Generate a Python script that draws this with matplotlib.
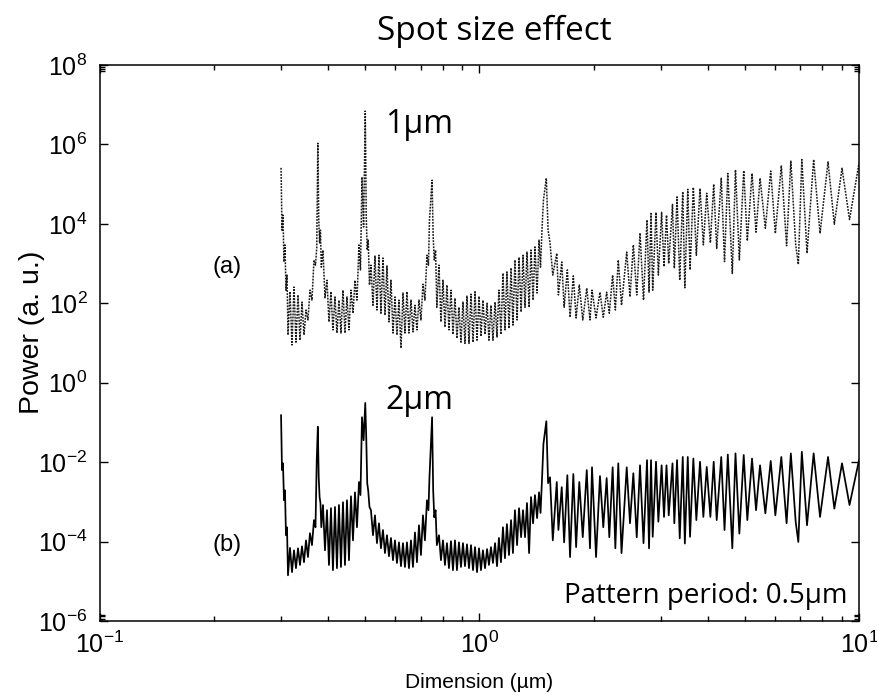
import numpy as np
import matplotlib.pyplot as plt
from matplotlib.ticker import FixedLocator, NullFormatter

#===========================
# DATA
#===========================
# dimension in um, shared by both spectra
dimension_um = [
    0.300, 0.3017, 0.3035, 0.3054, 0.3072, 0.3091, 0.3110, 0.3129, 0.3167, 0.3206,
    0.3245, 0.3284, 0.3325, 0.3365, 0.3406, 0.3448, 0.3490, 0.3532, 0.3575, 0.3619,
    0.3663, 0.3697, 0.3725, 0.375, 0.377, 0.379, 0.381, 0.383, 0.3869, 0.3916,
    0.3964, 0.4012, 0.4061, 0.4110, 0.4161, 0.4211, 0.4263, 0.4315, 0.4368, 0.4421,
    0.4475, 0.4530, 0.4585, 0.4641, 0.4698, 0.4755, 0.4813, 0.4857, 0.4902, 0.4950,
    0.500, 0.503, 0.506, 0.509, 0.513, 0.5176, 0.5240, 0.5304, 0.5368, 0.5434,
    0.5500, 0.5567, 0.5635, 0.5704, 0.5774, 0.5844, 0.5916, 0.5988, 0.6061, 0.6135,
    0.6210, 0.6286, 0.6362, 0.6440, 0.6518, 0.6598, 0.6678, 0.6760, 0.6842, 0.6926,
    0.7010, 0.7096, 0.7182, 0.7270, 0.7337, 0.7382, 0.750, 0.755, 0.760, 0.766,
    0.772, 0.7820, 0.7915, 0.8012, 0.8109, 0.8208, 0.8309, 0.8411, 0.8513, 0.8617,
    0.8722, 0.8828, 0.8936, 0.9046, 0.9156, 0.9268, 0.9382, 0.9498, 0.9614, 0.9732,
    0.9850, 0.9970, 1.009, 1.021, 1.034, 1.047, 1.059, 1.072, 1.085, 1.099,
    1.112, 1.125, 1.139, 1.153, 1.167, 1.181, 1.196, 1.211, 1.225, 1.240,
    1.256, 1.271, 1.287, 1.302, 1.318, 1.334, 1.351, 1.367, 1.384, 1.400,
    1.418, 1.435, 1.448, 1.462, 1.474, 1.500, 1.516, 1.534, 1.560, 1.598,
    1.614, 1.647, 1.671, 1.704, 1.732, 1.767, 1.797, 1.832, 1.871, 1.917,
    1.955, 1.979, 2.028, 2.077, 2.119, 2.163, 2.198, 2.243, 2.280, 2.321,
    2.367, 2.443, 2.492, 2.543, 2.596, 2.648, 2.705, 2.763, 2.797, 2.831,
    2.860, 2.918, 2.960, 3.019, 3.063, 3.110, 3.152, 3.225, 3.261, 3.315,
    3.370, 3.432, 3.476, 3.538, 3.587, 3.660, 3.727, 3.811, 3.889, 3.969,
    4.058, 4.141, 4.217, 4.335, 4.422, 4.511, 4.636, 4.726, 4.838, 4.968,
    5.078, 5.225, 5.354, 5.485, 5.665, 5.852, 6.019, 6.241, 6.444, 6.612,
    6.81, 6.920, 7.068, 7.294, 7.593, 7.893, 8.286, 8.609, 9.020, 9.440,
    10.0,
]

# log10 of power, (a) 1um spot
log_power_a = [
    5.41, 3.84, 4.22, 3.04, 3.47, 2.33, 2.71, 1.20, 2.29, 0.95,
    2.41, 1.02, 2.21, 1.07, 2.03, 1.20, 1.83, 1.58, 2.33, 2.08,
    3.09, 2.96, 3.40, 6.03, 4.16, 3.52, 3.84, 2.91, 3.34, 2.14,
    2.58, 1.53, 2.29, 1.33, 2.16, 1.25, 2.08, 1.25, 2.33, 1.25,
    2.16, 1.33, 2.33, 1.75, 2.58, 2.08, 3.47, 2.84, 5.18, 3.92,
    6.84, 4.17, 3.34, 3.59, 2.46, 2.96, 1.95, 3.19, 1.83, 3.21,
    1.75, 3.14, 1.70, 2.94, 1.53, 2.58, 1.25, 2.16, 1.20, 2.08,
    0.87, 2.26, 1.25, 2.29, 1.25, 2.08, 1.28, 1.95, 1.33, 2.08,
    1.58, 2.48, 2.08, 3.21, 2.96, 4.10, 5.10, 3.67, 3.09, 3.34,
    1.90, 2.96, 1.53, 2.58, 1.40, 2.46, 1.33, 2.33, 1.22, 2.13,
    1.12, 1.90, 1.02, 2.03, 0.99, 2.18, 0.99, 2.23, 1.02, 2.29,
    1.07, 2.18, 1.17, 2.08, 1.22, 2.00, 1.07, 1.95, 1.07, 2.03,
    1.15, 2.33, 1.22, 2.76, 1.33, 2.79, 1.37, 2.89, 1.45, 3.09,
    1.58, 3.16, 1.78, 3.21, 1.90, 3.29, 1.90, 3.34, 2.08, 3.42,
    2.26, 3.59, 2.91, 3.92, 4.60, 5.15, 3.84, 3.52, 2.71, 3.26,
    2.21, 3.04, 1.90, 2.84, 1.65, 2.69, 1.63, 2.46, 1.58, 2.38,
    1.58, 2.33, 1.63, 2.28, 1.65, 2.28, 1.75, 2.71, 1.83, 3.09,
    1.95, 3.29, 2.16, 3.47, 2.21, 3.77, 2.08, 4.10, 2.28, 4.26,
    2.33, 4.29, 2.71, 4.29, 2.92, 4.22, 3.00, 4.49, 2.88, 4.68,
    2.58, 4.81, 2.39, 4.87, 2.84, 4.92, 3.21, 4.89, 3.47, 4.77,
    3.52, 5.00, 3.38, 5.15, 3.05, 5.27, 2.75, 5.36, 3.09, 5.34,
    3.57, 5.27, 3.79, 5.15, 3.89, 5.33, 3.76, 5.47, 3.45, 5.58,
    3.47, 2.98, 5.62, 3.26, 5.62, 3.76, 5.56, 3.99, 5.40, 4.11,
    5.53,
]

# log10 of power, (b) 2um spot
log_power_b = [
    -0.82, -2.20, -2.03, -2.96, -2.71, -3.84, -3.64, -4.85, -4.16, -4.77,
    -4.22, -4.67, -4.17, -4.59, -4.12, -4.52, -3.97, -4.39, -3.79, -4.09,
    -3.46, -3.64, -1.95, -1.11, -2.38, -2.88, -3.03, -3.64, -3.08, -4.22,
    -3.21, -4.59, -3.16, -4.72, -3.13, -4.67, -3.08, -4.64, -3.01, -4.59,
    -2.96, -4.47, -2.86, -3.97, -2.76, -3.64, -2.50, -2.83, -0.87, -1.45,
    -0.51, -1.37, -2.53, -2.71, -3.13, -3.21, -3.84, -3.34, -4.04, -3.54,
    -4.17, -3.71, -4.29, -3.84, -4.37, -3.91, -4.47, -3.97, -4.54, -4.02,
    -4.62, -4.04, -4.64, -4.02, -4.67, -3.97, -4.64, -3.77, -4.52, -3.59,
    -4.34, -3.34, -3.97, -2.96, -3.21, -2.38, -0.87, -2.71, -3.39, -3.21,
    -4.09, -3.84, -4.47, -3.97, -4.59, -4.04, -4.67, -3.99, -4.72, -3.97,
    -4.72, -4.02, -4.64, -4.04, -4.62, -4.07, -4.67, -4.09, -4.72, -4.14,
    -4.77, -4.17, -4.72, -4.22, -4.67, -4.19, -4.59, -4.14, -4.54, -4.04,
    -4.62, -3.91, -4.52, -3.64, -4.42, -3.56, -4.34, -3.46, -4.29, -3.21,
    -4.09, -3.16, -3.89, -3.21, -3.89, -3.03, -4.29, -2.88, -3.54, -2.83,
    -3.41, -2.76, -3.28, -2.38, -1.54, -0.97, -2.53, -2.38, -3.97, -2.50,
    -3.71, -2.63, -4.02, -2.33, -4.39, -2.30, -4.14, -2.50, -3.89, -2.20,
    -4.17, -2.13, -4.39, -2.35, -3.64, -2.40, -3.89, -2.13, -4.17, -2.03,
    -4.29, -2.13, -3.54, -2.28, -3.89, -2.08, -4.04, -1.95, -4.17, -1.95,
    -3.88, -1.99, -3.50, -2.08, -3.38, -2.08, -3.34, -2.03, -3.54, -1.95,
    -3.92, -1.87, -4.05, -1.87, -3.88, -1.91, -3.46, -1.99, -3.38, -2.12,
    -3.38, -1.99, -3.46, -1.87, -3.71, -1.81, -4.17, -1.78, -3.80, -1.82,
    -3.46, -1.91, -3.21, -2.08, -3.29, -1.97, -3.34, -1.87, -3.54, -1.78,
    -3.51, -4.01, -1.74, -3.59, -1.78, -3.38, -1.87, -3.17, -2.03, -3.08,
    -1.95,
]

y_major = [1e-6, 1e-4, 1e-2, 1e0, 1e2, 1e4, 1e6, 1e8]
y_labels = [r'$\mathdefault{10^{%d}}$' % e for e in (-6, -4, -2, 0, 2, 4, 6, 8)]
x_major = [0.1, 1.0, 10.0]
x_labels = [r'$\mathdefault{10^{-1}}$', r'$\mathdefault{10^{0}}$', r'$\mathdefault{10^{1}}$']

#===========================
# FIGURE
#===========================
plt.rcParams['font.family'] = ['Liberation Sans', 'DejaVu Sans']
CAL = ['Open Sans', 'DejaVu Sans']

fig = plt.figure(figsize=(8.77, 6.96), dpi=100)
ax = fig.add_axes([0.114, 0.1078, 0.8655, 0.7988])

x = np.array(dimension_um)
ax.plot(x, 10.0 ** np.array(log_power_a), color='#1a1a1a', lw=1.1, ls=(0, (1.2, 0.8)))
ax.plot(x, 10.0 ** np.array(log_power_b), color='black', lw=1.25)

ax.set_xscale('log')
ax.set_yscale('log')
ax.set_xlim(0.1, 10)
ax.set_ylim(1e-6, 1e8)

#****** ticks ******
ax.xaxis.set_major_locator(FixedLocator(x_major))
ax.set_xticklabels(x_labels)
ax.xaxis.set_minor_locator(FixedLocator([k * 0.1 for k in range(2, 10)] + list(range(2, 10))))
ax.xaxis.set_minor_formatter(NullFormatter())
ax.yaxis.set_major_locator(FixedLocator(y_major))
ax.set_yticklabels(y_labels)
ax.yaxis.set_minor_locator(FixedLocator([7e7, 8e7, 9e7, 1.15e-6, 1.3e-6, 1.45e-6]))
ax.yaxis.set_minor_formatter(NullFormatter())
ax.tick_params(which='both', direction='in', top=True, right=True, width=1.0)
ax.tick_params(which='major', length=6, labelsize=18)
ax.tick_params(axis='x', which='major', pad=8)
ax.tick_params(axis='y', which='major', pad=9)
ax.tick_params(which='minor', length=3.5)
for s in ax.spines.values():
    s.set_linewidth(1.1)

#****** labels ******
ax.set_xlabel('Dimension (\u00b5m)', fontsize=15, va='center')
ax.xaxis.set_label_coords(0.5, -0.111)
ax.set_ylabel('Power (a. u.)', fontsize=20.5, va='center')
ax.yaxis.set_label_coords(-0.090, 0.52)

fig.text(0.564, 1 - 31 / 696.0, 'Spot size effect', fontsize=24, family=CAL,
         ha='center', va='center')
ax.text(0.564, 10 ** 6.49, '1\u00b5m', fontsize=23, family=CAL, ha='left', va='center')
ax.text(0.564, 10 ** -0.45, '2\u00b5m', fontsize=23, family=CAL, ha='left', va='center')
ax.text(9.35, 10 ** -5.38, 'Pattern period: 0.5\u00b5m', fontsize=20, family=CAL,
        ha='right', va='center')
ax.text(0.216, 10 ** 2.91, '(a)', fontsize=17, ha='center', va='center')
ax.text(0.216, 10 ** -4.09, '(b)', fontsize=17, ha='center', va='center')

fig.savefig('out.png', dpi=100)
